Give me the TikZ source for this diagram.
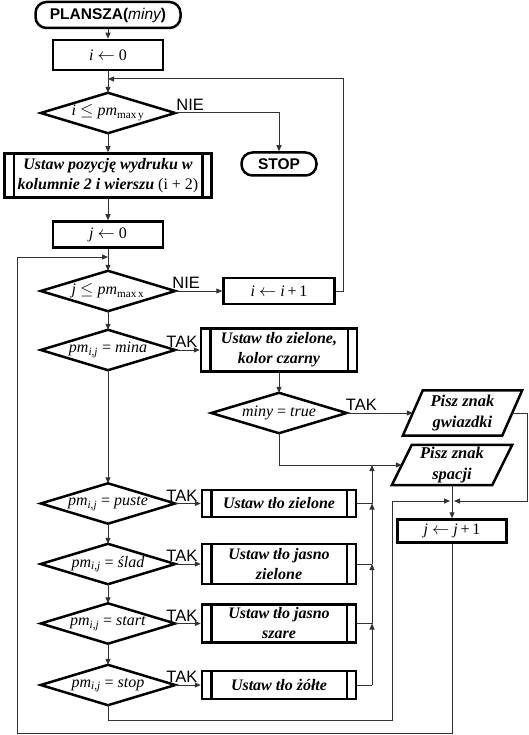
\documentclass[tikz,border=0pt]{standalone}
\usepackage{fontspec}
\setmainfont{Liberation Serif}
\setsansfont{Liberation Sans}
\usetikzlibrary{arrows.meta,calc}
\tikzset{
  base/.style={inner sep=0pt, align=center, font=\fontsize{16}{20}\selectfont},
  boxline/.style={line width=2.5pt, line join=miter},
  boxst/.style={base, draw, boxline},
  term/.style={base, draw, boxline, rounded corners=11pt, font=\fontsize{15.5}{18}\selectfont\sffamily\bfseries},
  pp/.style={base, draw, boxline, font=\fontsize{16}{20}\selectfont\bfseries\itshape},
  decn/.style={base, minimum width=134pt, minimum height=40pt},
  iost/.style={base, font=\fontsize{16.5}{21}\selectfont\bfseries\itshape},
  conn/.style={line width=1pt, draw=black!80},
  arr/.style={conn, -{Triangle[length=6pt,width=5pt]}},
  lab/.style={inner sep=0pt, font=\fontsize{16.5}{18}\selectfont\sffamily, anchor=south west}
}
\begin{document}
\begin{tikzpicture}[x=1pt,y=-1pt]
\useasboundingbox (0,0) rectangle (529,735);
% nodes
\node[term, minimum width=145pt, minimum height=26pt] (start) at (108,15) {PLANSZA({\mdseries\itshape miny})};
\node[boxst, minimum width=110pt, minimum height=30pt] (i0) at (108,55) {\textit{i} $\leftarrow$ 0};
\node[decn] (d1) at (108,113) {\textit{i} $\leq$ \textit{pm}\textsubscript{max\,y}};
\node[term, minimum width=75pt, minimum height=23pt] (stop) at (279,164) {STOP};
\node[pp, minimum width=207pt, minimum height=44pt] (u1) at (108,175.5) {Ustaw pozycję wydruku w\\kolumnie 2 i wierszu {\mdseries\upshape (i + 2)}};
\node[boxst, minimum width=110pt, minimum height=26pt] (j0) at (108,234.5) {\textit{j} $\leftarrow$ 0};
\node[decn] (d2) at (108,291) {\textit{j} $\leq$ \textit{pm}\textsubscript{max\,x}};
\node[boxst, minimum width=111pt, minimum height=26pt] (ip1) at (279,291) {\textit{i} $\leftarrow$ \textit{i}\,+\,1};
\node[decn] (d3) at (108,350) {\textit{pm}\textsubscript{\textit{i,j}} = \textit{mina}};
\node[pp, minimum width=156pt, minimum height=43pt] (u2) at (279,350) {Ustaw tło zielone,\\kolor czarny};
\node[decn, minimum width=135pt] (dm) at (279,413) {\textit{miny} = \textit{true}};
\node[iost, minimum width=99pt, minimum height=45pt] (pg) at (462.5,413) {Pisz znak\\gwiazdki};
\node[iost, minimum width=100pt, minimum height=40pt] (ps) at (452,465) {Pisz znak\\spacji};
\node[decn] (d4) at (108,503.5) {\textit{pm}\textsubscript{\textit{i,j}} = \textit{puste}};
\node[pp, minimum width=154pt, minimum height=27pt] (u3) at (279,503.5) {Ustaw tło zielone};
\node[boxst, minimum width=109pt, minimum height=23pt] (jp1) at (452,531) {\textit{j} $\leftarrow$ \textit{j}\,+\,1};
\node[decn] (d5) at (108,564) {\textit{pm}\textsubscript{\textit{i,j}} = \textit{ślad}};
\node[pp, minimum width=154pt, minimum height=40pt] (u4) at (279,564) {Ustaw tło jasno\\zielone};
\node[decn] (d6) at (108,623.5) {\textit{pm}\textsubscript{\textit{i,j}} = \textit{start}};
\node[pp, minimum width=154pt, minimum height=38pt] (u5) at (279,623.5) {Ustaw tło jasno\\szare};
\node[decn] (d7) at (108,685) {\textit{pm}\textsubscript{\textit{i,j}} = \textit{stop}};
\node[pp, minimum width=154pt, minimum height=28pt] (u6) at (279,685) {Ustaw tło żółte};
% shapes
\foreach \n in {d1,d2,d3,dm,d4,d5,d6,d7}
  \draw[boxline] (\n.north) -- (\n.east) -- (\n.south) -- (\n.west) -- cycle;
\foreach \n in {u1,u2,u3,u4,u5,u6}{
  \draw[boxline] ([xshift=10.5pt]\n.north west) -- ([xshift=10.5pt]\n.south west);
  \draw[boxline] ([xshift=-10.5pt]\n.north east) -- ([xshift=-10.5pt]\n.south east);
}
\foreach \n in {pg,ps}
  \draw[boxline] ([xshift=10pt]\n.north west) -- ([xshift=10pt]\n.north east) -- ([xshift=-10pt]\n.south east) -- ([xshift=-10pt]\n.south west) -- cycle;
% coordinates
\coordinate (l1) at (108,79);
\coordinate (r1) at (343,79);
\coordinate (l2) at (108,257);
\coordinate (c1) at (17,733);
\coordinate (J) at (452,501);
\coordinate (c2) at (527,501);
\coordinate (c3) at (392,720);
\coordinate (vt) at (372,465);
\coordinate (v3) at (372,503.5);
\coordinate (v4) at (372,564);
\coordinate (v5) at (372,623.5);
\coordinate (v6) at (372,685);
% connectors
\draw[arr] (start.south) -- (i0.north);
\draw[arr] (i0.south) -- (d1.north);
\draw[arr] (ip1.east) -| (r1) -- (l1);
\draw[arr] (d1.east) -| (stop.north);
\draw[arr] (d1.south) -- (u1.north);
\draw[arr] (u1.south) -- (j0.north);
\draw[arr] (j0.south) -- (d2.north);
\draw[arr] (d2.east) -- (ip1.west);
\draw[arr] (d2.south) -- (d3.north);
\draw[arr] (d3.east) -- (u2.west);
\draw[arr] (d3.south) -- (d4.north);
\draw[arr] (u2.south) -- (dm.north);
\draw[arr] (dm.east) -- (pg.west);
\draw[arr] (dm.south) |- (ps.west);
\draw[arr, shorten >=2pt] (pg.east) -| (c2) -- (J);
\draw[conn] (ps.south) -- (J);
\draw[arr] (J) -- (jp1.north);
\draw[arr] (jp1.south) |- (c1) |- (l2);
\draw[arr, shorten >=2pt] (d7.south) |- (c3) |- (J);
\draw[arr] (d4.east) -- (u3.west);
\draw[arr] (d5.east) -- (u4.west);
\draw[arr] (d6.east) -- (u5.west);
\draw[arr] (d7.east) -- (u6.west);
\draw[arr] (d4.south) -- (d5.north);
\draw[arr] (d5.south) -- (d6.north);
\draw[arr] (d6.south) -- (d7.north);
\draw[conn] (u3.east) -- (v3);
\draw[conn] (u4.east) -- (v4);
\draw[conn] (u5.east) -- (v5);
\draw[conn] (u6.east) -- (v6);
\draw[arr] (v6) -- (v5);
\draw[arr] (v5) -- (v4);
\draw[arr] (v4) -- (v3);
\draw[arr] (v3) -- (vt);
% labels
\node[lab] at ([xshift=1pt,yshift=2pt]d1.east) {NIE};
\node[lab] at ([xshift=-3pt,yshift=2pt]d2.east) {NIE};
\node[lab] at ([xshift=-9pt,yshift=2pt]d3.east) {TAK};
\node[lab] at ([xshift=-1pt,yshift=2pt]dm.east) {TAK};
\node[lab] at ([xshift=-9pt,yshift=2pt]d4.east) {TAK};
\node[lab] at ([xshift=-9pt,yshift=2pt]d5.east) {TAK};
\node[lab] at ([xshift=-9pt,yshift=2pt]d6.east) {TAK};
\node[lab] at ([xshift=-9pt,yshift=2pt]d7.east) {TAK};
\end{tikzpicture}
\end{document}
